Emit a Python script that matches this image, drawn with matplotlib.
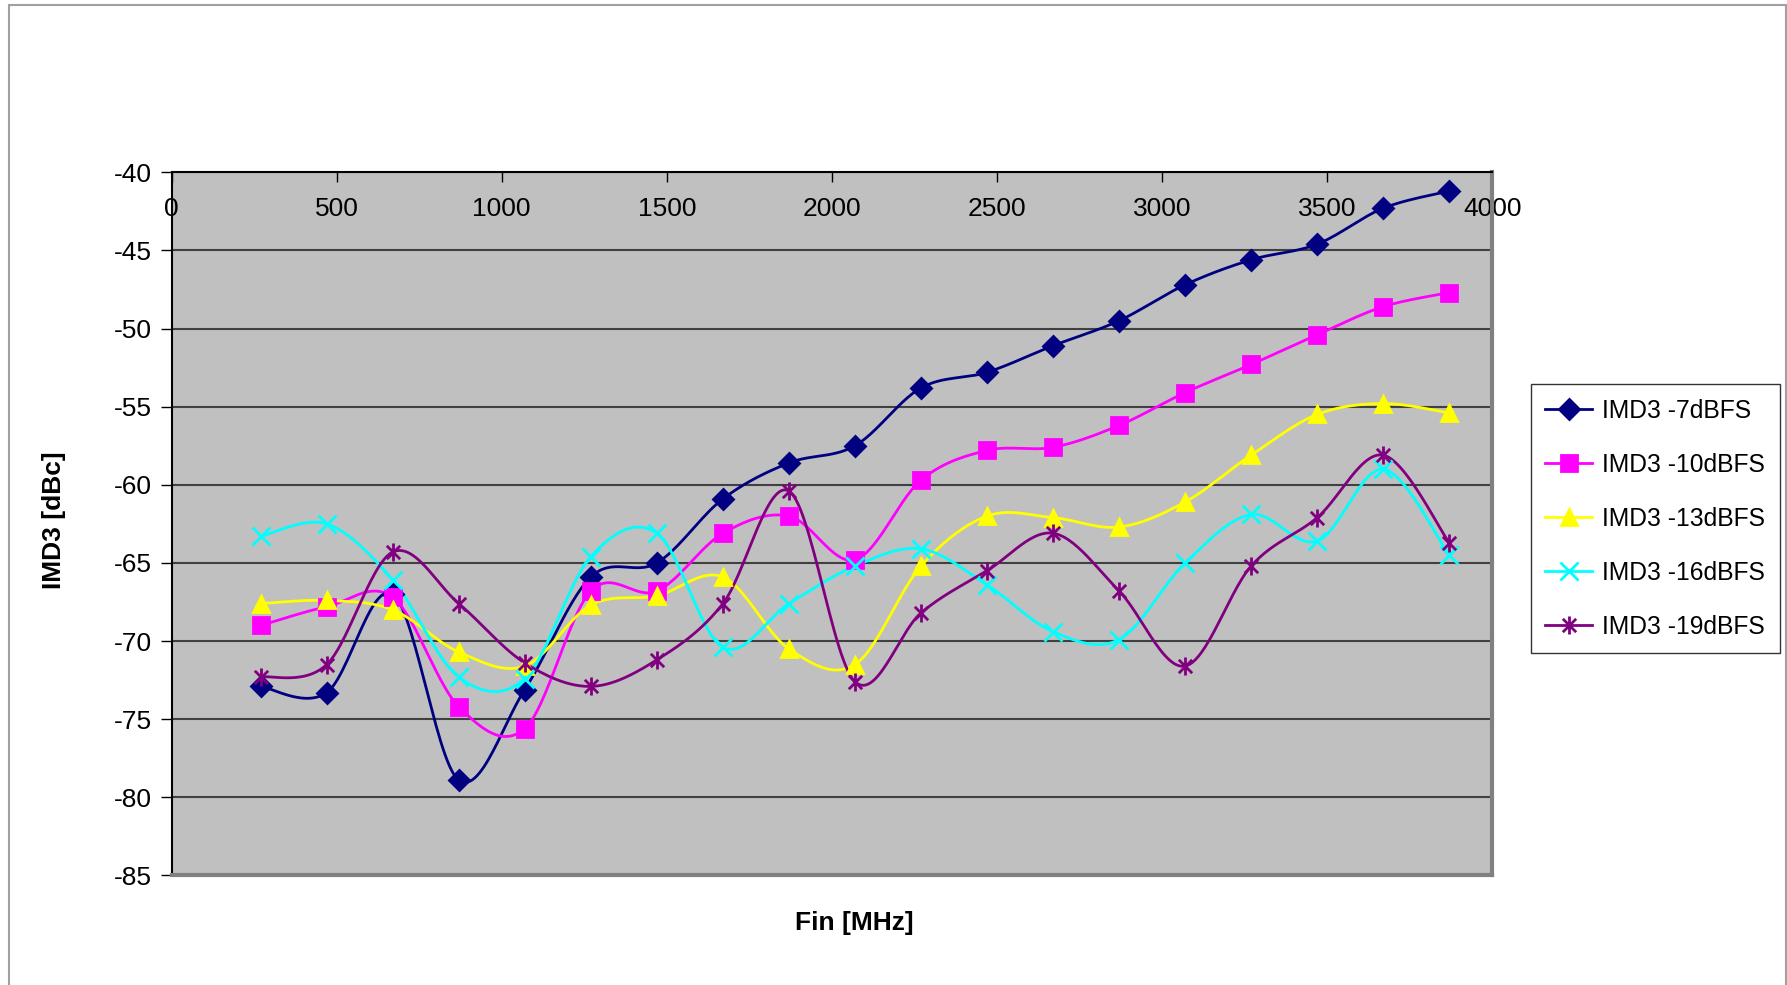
import numpy as np
import matplotlib
matplotlib.use("Agg")
import matplotlib.pyplot as plt
from matplotlib.path import Path
from matplotlib.patches import Rectangle

plt.rcParams['font.family'] = ['Liberation Sans', 'DejaVu Sans']
plt.rcParams['axes.unicode_minus'] = False

###############################################################################
# Datos
###############################################################################
fin = [270, 470, 670, 870, 1070, 1270, 1470, 1670, 1870, 2070,
       2270, 2470, 2670, 2870, 3070, 3270, 3470, 3670, 3870]

imd3_7 = [-72.9, -73.3, -67.0, -78.9, -73.1, -65.9, -65.0, -60.9, -58.6, -57.5,
          -53.8, -52.8, -51.1, -49.5, -47.2, -45.6, -44.6, -42.3, -41.2]
imd3_10 = [-69.0, -67.8, -67.2, -74.2, -75.6, -66.8, -66.8, -63.1, -62.0, -64.8,
           -59.7, -57.8, -57.6, -56.2, -54.1, -52.3, -50.4, -48.6, -47.7]
imd3_13 = [-67.6, -67.4, -68.0, -70.7, -71.6, -67.7, -67.1, -65.9, -70.5, -71.5,
           -65.2, -62.0, -62.1, -62.7, -61.1, -58.1, -55.5, -54.8, -55.4]
imd3_16 = [-63.3, -62.5, -66.1, -72.3, -72.4, -64.6, -63.1, -70.4, -67.6, -65.2,
           -64.1, -66.4, -69.4, -69.9, -65.0, -61.9, -63.6, -59.0, -64.5]
imd3_19 = [-72.3, -71.5, -64.3, -67.6, -71.4, -72.9, -71.2, -67.6, -60.4, -72.6,
           -68.2, -65.5, -63.1, -66.8, -71.6, -65.2, -62.1, -58.1, -63.7]

etiquetas = ["IMD3 -7dBFS", "IMD3 -10dBFS", "IMD3 -13dBFS",
             "IMD3 -16dBFS", "IMD3 -19dBFS"]

###############################################################################
# Suavizado tipo Excel (bezier con puntos de control a 1/6)
###############################################################################
def Suavizar(x, y, n=30):
    p = np.column_stack([x, y]).astype(float)
    ext = np.vstack([p[0], p, p[-1]])
    t = np.linspace(0, 1, n)[:, None]
    out = []
    for i in range(len(p) - 1):
        p0, p1, p2, p3 = ext[i], ext[i + 1], ext[i + 2], ext[i + 3]
        c1 = p1 + (p2 - p0) / 6.0
        c2 = p2 - (p3 - p1) / 6.0
        seg = ((1 - t) ** 3) * p1 + 3 * ((1 - t) ** 2) * t * c1 \
            + 3 * (1 - t) * t ** 2 * c2 + t ** 3 * p2
        out.append(seg if i == 0 else seg[1:])
    out = np.vstack(out)
    return out[:, 0], out[:, 1]

# marcador asterisco (x + linea vertical)
asterisco = Path([(-1, -1), (1, 1), (-1, 1), (1, -1), (0, -1.35), (0, 1.35)],
                 [Path.MOVETO, Path.LINETO, Path.MOVETO, Path.LINETO,
                  Path.MOVETO, Path.LINETO])

###############################################################################
# Ploteo
###############################################################################
fig = plt.figure(figsize=(17.87, 9.85), dpi=100)
ax = fig.add_axes([0.096, 0.1112, 0.739, 0.7139])
ax.set_facecolor("#C0C0C0")

series = [imd3_7, imd3_10, imd3_13, imd3_16, imd3_19]
colores = ["#000080", "#FF00FF", "#FFFF00", "#00FFFF", "#800080"]
marcadores = ["D", "s", "^", "x", asterisco]
tamanos = [10, 12, 12, 13, 13]

for ys, c, m, ms, lab in zip(series, colores, marcadores, tamanos, etiquetas):
    xs, yy = Suavizar(fin, ys)
    ax.plot(xs, yy, color=c, lw=2, zorder=3)
    ax.plot(fin, ys, linestyle="none", marker=m, ms=ms, color=c,
            mec=c, mew=2, zorder=4)
    ax.plot([], [], color=c, lw=2, marker=m, ms=ms, mec=c, mew=2, label=lab)

ax.set_xlim(0, 4000)
ax.set_ylim(-85, -40)
ax.set_xticks(np.arange(0, 4001, 500))
ax.set_yticks(np.arange(-85, -39, 5))
ax.yaxis.grid(True, color="#404040", lw=1.5)
ax.set_axisbelow(True)

ax.tick_params(axis="x", direction="in", top=True, bottom=False,
               labeltop=True, labelbottom=False, length=7, width=1,
               pad=-35, labelsize=19)
ax.tick_params(axis="y", direction="out", length=8, width=1, pad=6,
               labelsize=19)

for s in ["left", "top"]:
    ax.spines[s].set_color("black")
    ax.spines[s].set_linewidth(1.5)
for s in ["right", "bottom"]:
    ax.spines[s].set_color("#808080")
    ax.spines[s].set_linewidth(3)

fig.text(0.478, 1 - 923 / 985, "Fin [MHz]", ha="center", va="center",
         fontsize=19, fontweight="bold")
fig.text(54 / 1787, 1 - 520 / 985, "IMD3 [dBc]", ha="center", va="center",
         rotation=90, fontsize=19, fontweight="bold")

leg = fig.legend(loc="center left", bbox_to_anchor=(0.8565, 0.4735),
                 fontsize=17.7, frameon=True, fancybox=False, edgecolor="black",
                 handlelength=1.9, labelspacing=1.22, borderpad=0.6,
                 handletextpad=0.4, borderaxespad=0)
leg.get_frame().set_linewidth(1)

# marco exterior del grafico
fig.patches.append(Rectangle((9 / 1787, -0.05), 1777 / 1787, 1.05 - 5 / 985,
                             transform=fig.transFigure, fill=False,
                             edgecolor="#A0A0A0", lw=1.5, clip_on=False))

fig.savefig("out.png", dpi=100)
